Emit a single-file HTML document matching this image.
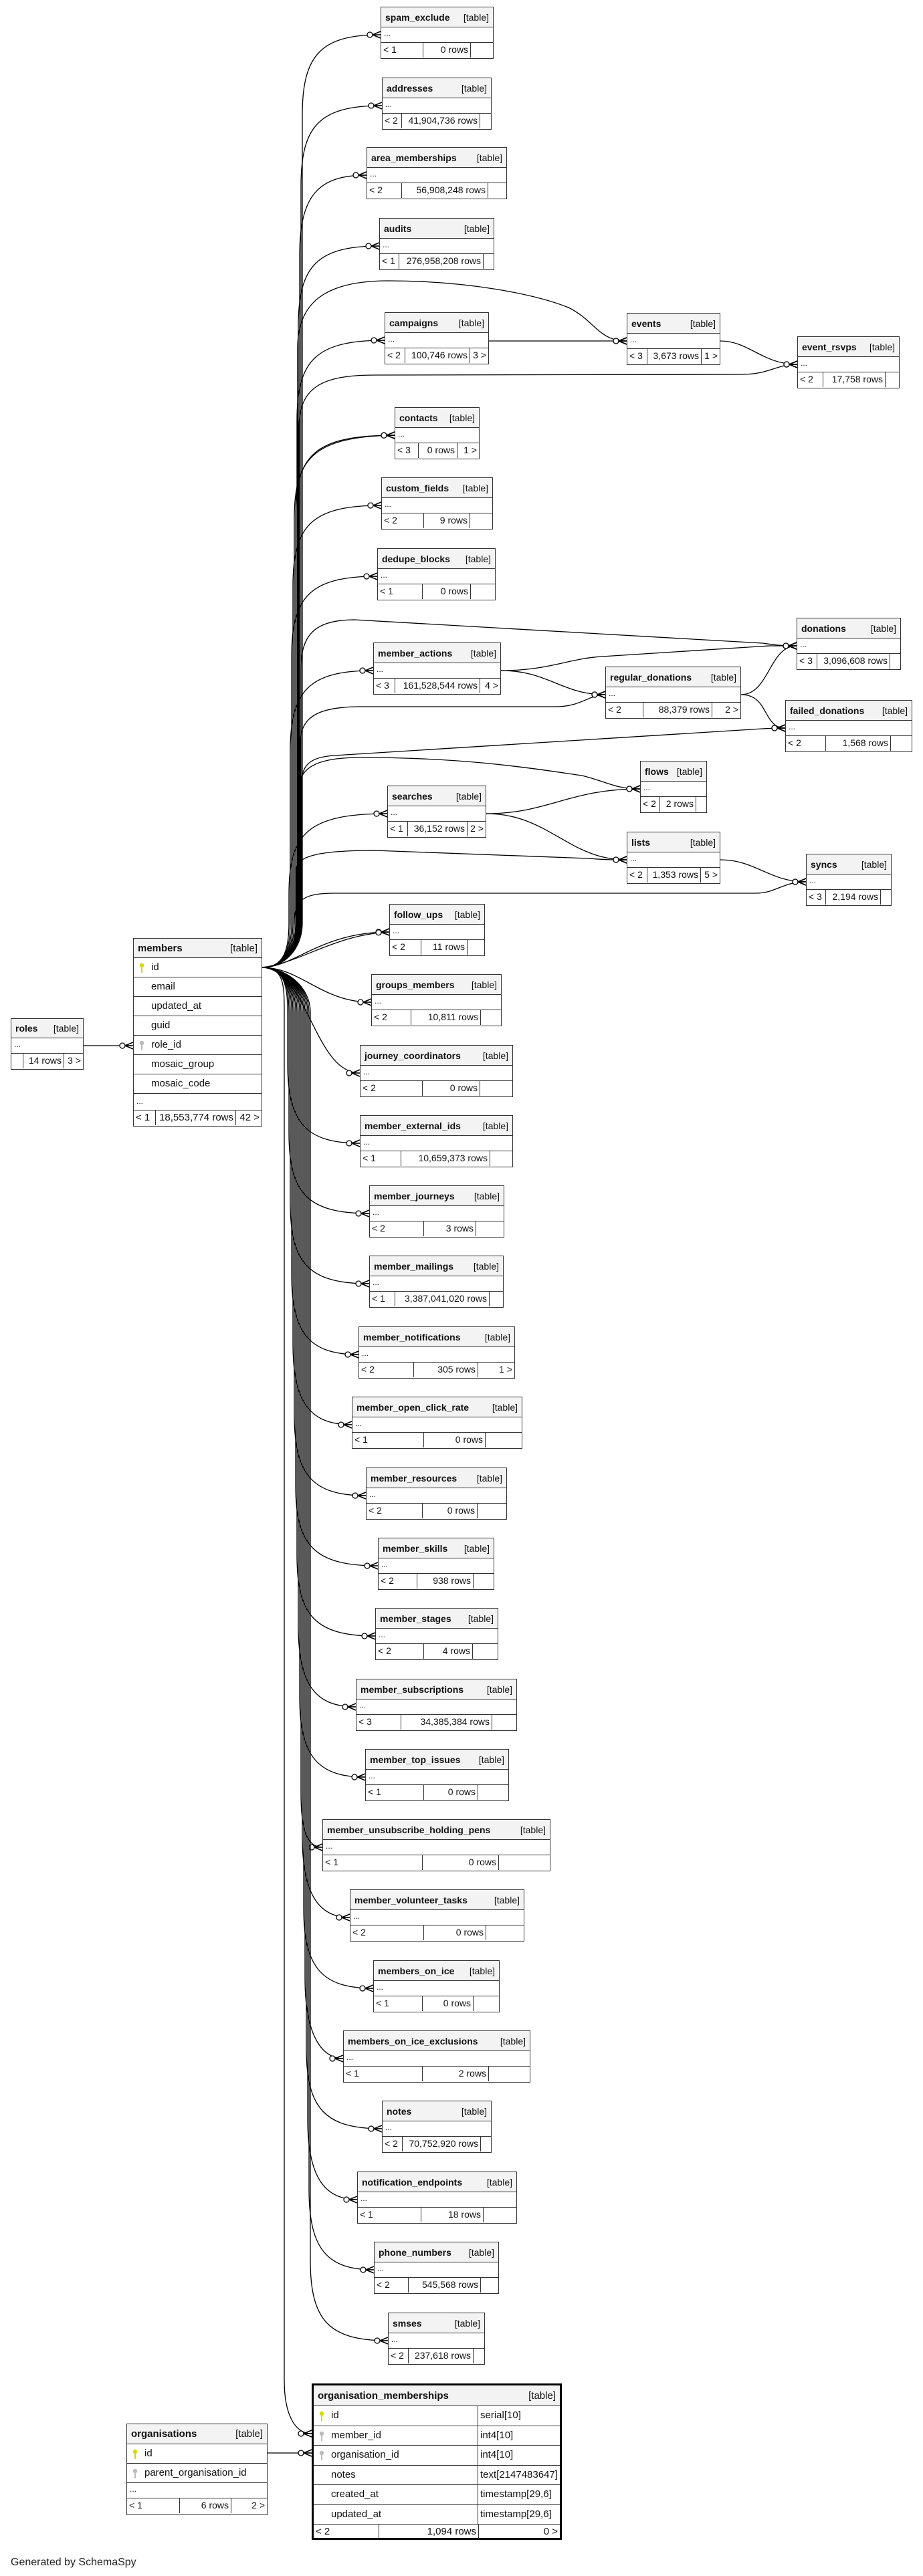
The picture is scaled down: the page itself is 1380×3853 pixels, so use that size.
<!DOCTYPE html>
<html><head><meta charset="utf-8">
<style>
html,body{margin:0;padding:0;background:#fff}
body{width:1380px;height:3853px;position:relative;overflow:hidden;font-family:"Liberation Sans",sans-serif;font-size:14px;color:#111}
svg.c{position:absolute;left:0;top:0}
.t{position:absolute;height:78px;border:1.5px solid #333;box-sizing:border-box;background:#fff}
.h{height:30px;background:#f3f3f3;border-bottom:1.5px solid #333;display:flex;justify-content:space-between;align-items:center;padding:0 6px;box-sizing:border-box;white-space:nowrap}
.h b{margin-right:4px}
.r{height:23px;border-bottom:1.5px solid #333;box-sizing:border-box;padding-left:4px;line-height:19px;font-size:12px}
.f{display:flex;height:22px;line-height:21px}
.f span{border-right:1.5px solid #333;box-sizing:border-box;padding:0 3px;white-space:nowrap;overflow:hidden}
.f span:nth-child(2){text-align:right}
.f span:last-child{border-right:0;flex:1;text-align:right}
.big .row{height:29px;border-bottom:1.5px solid #333;box-sizing:border-box;line-height:28px;position:relative;padding-left:26px;font-size:15px}
.key{position:absolute;left:8px;top:7px}
</style></head><body>
<svg class="c" width="1380" height="3853" viewBox="0 0 1380 3853">
<defs>
<marker id="m" markerUnits="userSpaceOnUse" viewBox="-24 -8 26 16" refX="0" refY="0" markerWidth="26" markerHeight="16" orient="auto">
<path d="M-12 0L0 -5M-12 0L0 5M-12 0L0 0" stroke="#000" stroke-width="1.6" fill="none"/>
<circle cx="-16" cy="0" r="4" fill="#fff" stroke="#000" stroke-width="1.3"/>
</marker>
</defs>
<g fill="none" stroke="#000" stroke-width="1.3" marker-end="url(#m)">
<path d="M392 1447C425 1447 452 1420 452 1380L452 172C452 82 480 52 569 52"/>
<path d="M392 1447C425 1447 450 1420 450 1380L450 278C450 188 478 158 571 158"/>
<path d="M392 1447C425 1447 448 1420 448 1380L448 382C448 292 476 262 548 262"/>
<path d="M392 1447C425 1447 446 1420 446 1380L446 488C446 398 474 368 567 368"/>
<path d="M392 1447C425 1447 444 1420 444 1380L444 629C444 539 472 509 575 509"/>
<path d="M392 1447C425 1447 442 1420 442 1380L442 771C442 681 470 651 590 651"/>
<path d="M392 1447C425 1447 440 1420 440 1380L440 776C440 686 468 653 590 651"/>
<path d="M392 1447C425 1447 438 1420 438 1380L438 876C438 786 466 756 570 756"/>
<path d="M392 1447C425 1447 436 1420 436 1380L436 982C436 892 464 862 564 862"/>
<path d="M392 1447C425 1447 434 1420 434 1380L434 1123C434 1033 462 1003 558 1003"/>
<path d="M392 1447C425 1447 432 1420 432 1380L432 1337C432 1247 460 1217 579 1217"/>
<path d="M392 1447C440 1447 480 1394 582 1394"/>
<path d="M392 1447C450 1440 500 1398 582 1394"/>
<path d="M392 1447C450 1447 480 1499 555 1499"/>
<path d="M392 1447C460 1450 470 1605 538 1605"/>
<path d="M392 1447C425 1447 430 1474 430 1514L430 1590C430 1680 458 1710 538 1710"/>
<path d="M392 1447C425 1447 432 1474 432 1514L432 1695C432 1785 460 1815 552 1815"/>
<path d="M392 1447C425 1447 434 1474 434 1514L434 1800C434 1890 462 1920 552 1920"/>
<path d="M392 1447C425 1447 436 1474 436 1514L436 1906C436 1996 464 2026 536 2026"/>
<path d="M392 1447C425 1447 438 1474 438 1514L438 2011C438 2101 466 2131 526 2131"/>
<path d="M392 1447C425 1447 440 1474 440 1514L440 2117C440 2207 468 2237 547 2237"/>
<path d="M392 1447C425 1447 442 1474 442 1514L442 2222C442 2312 470 2342 565 2342"/>
<path d="M392 1447C425 1447 444 1474 444 1514L444 2327C444 2417 472 2447 561 2447"/>
<path d="M392 1447C425 1447 446 1474 446 1514L446 2433C446 2523 474 2553 532 2553"/>
<path d="M392 1447C425 1447 448 1474 448 1514L448 2538C448 2628 476 2658 546 2658"/>
<path d="M392 1447C425 1447 450 1474 450 1514L450 2683C450 2740 460 2763 482 2763"/>
<path d="M392 1447C425 1447 452 1474 452 1514L452 2748C452 2838 480 2868 523 2868"/>
<path d="M392 1447C425 1447 454 1474 454 1514L454 2854C454 2944 482 2974 558 2974"/>
<path d="M392 1447C425 1447 456 1474 456 1514L456 2959C456 3049 484 3079 513 3079"/>
<path d="M392 1447C425 1447 458 1474 458 1514L458 3064C458 3154 486 3184 571 3184"/>
<path d="M392 1447C425 1447 460 1474 460 1514L460 3170C460 3260 488 3290 534 3290"/>
<path d="M392 1447C425 1447 462 1474 462 1514L462 3275C462 3365 490 3395 559 3395"/>
<path d="M392 1447C425 1447 464 1474 464 1514L464 3381C464 3471 492 3501 580 3501"/>
<path d="M392 1447C425 1447 425 1474 425 1514L425 3560C425 3610 440 3640 466 3640"/>
<path d="M125 1564L199 1564"/>
<path d="M400 3669L466 3669"/>
<path d="M392 1447C425 1447 445 1420 445 1380L445 520C445 450 490 420 580 420C700 420 800 440 850 460C890 480 895 510 937 510"/>
<path d="M731 510L937 510"/>
<path d="M392 1447C425 1447 447 1420 447 1380L447 640C447 580 480 561 560 561L1110 560C1150 560 1160 545 1192 545"/>
<path d="M1077 510C1120 510 1140 545 1192 545"/>
<path d="M392 1447C425 1447 450 1420 450 1380L450 1000C450 950 470 927 530 927L1140 962C1160 965 1170 966 1191 966"/>
<path d="M749 1003C820 1003 850 985 900 982L1150 966C1170 966 1180 966 1191 966"/>
<path d="M749 1003C820 1003 840 1039 905 1039"/>
<path d="M392 1447C425 1447 449 1420 449 1380L449 1110C449 1070 480 1057 540 1057L830 1057C870 1057 880 1039 905 1039"/>
<path d="M1108 1039C1150 1039 1150 966 1191 966"/>
<path d="M1108 1039C1150 1039 1140 1089 1174 1089"/>
<path d="M392 1447C425 1447 451 1420 451 1380L451 1170C451 1140 470 1132 500 1130L1140 1090C1155 1089 1165 1089 1174 1089"/>
<path d="M392 1447C425 1447 447 1420 447 1380L447 1180C447 1145 480 1133 540 1133C700 1133 800 1150 870 1160C910 1170 920 1180 957 1180"/>
<path d="M727 1217C820 1217 850 1180 957 1180"/>
<path d="M727 1217C820 1217 850 1286 937 1286"/>
<path d="M392 1447C425 1447 443 1420 443 1380L443 1300C443 1280 480 1272 560 1272L880 1284C905 1286 915 1286 937 1286"/>
<path d="M392 1447C425 1447 440 1420 440 1380C440 1345 455 1336 500 1336L1130 1336C1160 1336 1170 1319 1205 1319"/>
<path d="M1077 1286C1130 1286 1150 1319 1205 1319"/>
</g>
</svg>

<div class="t" style="left:569px;top:10px;width:169px"><div class="h"><b>spam_exclude</b><span>[table]</span></div><div class="r">...</div><div class="f"><span style="width:63px">&lt; 1</span><span style="width:71px">0 rows</span><span></span></div></div>
<div class="t" style="left:571px;top:116px;width:164px"><div class="h"><b>addresses</b><span>[table]</span></div><div class="r">...</div><div class="f"><span style="width:29px">&lt; 2</span><span style="width:117px">41,904,736 rows</span><span></span></div></div>
<div class="t" style="left:548px;top:220px;width:210px"><div class="h"><b>area_memberships</b><span>[table]</span></div><div class="r">...</div><div class="f"><span style="width:52px">&lt; 2</span><span style="width:129px">56,908,248 rows</span><span></span></div></div>
<div class="t" style="left:567px;top:326px;width:172px"><div class="h"><b>audits</b><span>[table]</span></div><div class="r">...</div><div class="f"><span style="width:29px">&lt; 1</span><span style="width:126px">276,958,208 rows</span><span></span></div></div>
<div class="t" style="left:575px;top:467px;width:156px"><div class="h"><b>campaigns</b><span>[table]</span></div><div class="r">...</div><div class="f"><span style="width:30px">&lt; 2</span><span style="width:97px">100,746 rows</span><span>3 &gt;</span></div></div>
<div class="t" style="left:937px;top:468px;width:140px"><div class="h"><b>events</b><span>[table]</span></div><div class="r">...</div><div class="f"><span style="width:30px">&lt; 3</span><span style="width:81px">3,673 rows</span><span>1 &gt;</span></div></div>
<div class="t" style="left:1192px;top:503px;width:153px"><div class="h"><b>event_rsvps</b><span>[table]</span></div><div class="r">...</div><div class="f"><span style="width:38px">&lt; 2</span><span style="width:93px">17,758 rows</span><span></span></div></div>
<div class="t" style="left:590px;top:609px;width:127px"><div class="h"><b>contacts</b><span>[table]</span></div><div class="r">...</div><div class="f"><span style="width:35px">&lt; 3</span><span style="width:58px">0 rows</span><span>1 &gt;</span></div></div>
<div class="t" style="left:570px;top:714px;width:167px"><div class="h"><b>custom_fields</b><span>[table]</span></div><div class="r">...</div><div class="f"><span style="width:63px">&lt; 2</span><span style="width:69px">9 rows</span><span></span></div></div>
<div class="t" style="left:564px;top:820px;width:177px"><div class="h"><b>dedupe_blocks</b><span>[table]</span></div><div class="r">...</div><div class="f"><span style="width:67px">&lt; 1</span><span style="width:72px">0 rows</span><span></span></div></div>
<div class="t" style="left:1191px;top:924px;width:156px"><div class="h"><b>donations</b><span>[table]</span></div><div class="r">...</div><div class="f"><span style="width:30px">&lt; 3</span><span style="width:109px">3,096,608 rows</span><span></span></div></div>
<div class="t" style="left:558px;top:961px;width:191px"><div class="h"><b>member_actions</b><span>[table]</span></div><div class="r">...</div><div class="f"><span style="width:32px">&lt; 3</span><span style="width:127px">161,528,544 rows</span><span>4 &gt;</span></div></div>
<div class="t" style="left:905px;top:997px;width:203px"><div class="h"><b>regular_donations</b><span>[table]</span></div><div class="r">...</div><div class="f"><span style="width:56px">&lt; 2</span><span style="width:103px">88,379 rows</span><span>2 &gt;</span></div></div>
<div class="t" style="left:1174px;top:1047px;width:190px"><div class="h"><b>failed_donations</b><span>[table]</span></div><div class="r">...</div><div class="f"><span style="width:60px">&lt; 2</span><span style="width:97px">1,568 rows</span><span></span></div></div>
<div class="t" style="left:957px;top:1138px;width:100px"><div class="h"><b>flows</b><span>[table]</span></div><div class="r">...</div><div class="f"><span style="width:29px">&lt; 2</span><span style="width:54px">2 rows</span><span></span></div></div>
<div class="t" style="left:579px;top:1175px;width:148px"><div class="h"><b>searches</b><span>[table]</span></div><div class="r">...</div><div class="f"><span style="width:30px">&lt; 1</span><span style="width:89px">36,152 rows</span><span>2 &gt;</span></div></div>
<div class="t" style="left:937px;top:1244px;width:140px"><div class="h"><b>lists</b><span>[table]</span></div><div class="r">...</div><div class="f"><span style="width:30px">&lt; 2</span><span style="width:80px">1,353 rows</span><span>5 &gt;</span></div></div>
<div class="t" style="left:1205px;top:1277px;width:128px"><div class="h"><b>syncs</b><span>[table]</span></div><div class="r">...</div><div class="f"><span style="width:29px">&lt; 3</span><span style="width:82px">2,194 rows</span><span></span></div></div>
<div class="t" style="left:582px;top:1352px;width:143px"><div class="h"><b>follow_ups</b><span>[table]</span></div><div class="r">...</div><div class="f"><span style="width:47px">&lt; 2</span><span style="width:69px">11 rows</span><span></span></div></div>
<div class="t" style="left:555px;top:1457px;width:195px"><div class="h"><b>groups_members</b><span>[table]</span></div><div class="r">...</div><div class="f"><span style="width:59px">&lt; 2</span><span style="width:104px">10,811 rows</span><span></span></div></div>
<div class="t" style="left:538px;top:1563px;width:229px"><div class="h"><b>journey_coordinators</b><span>[table]</span></div><div class="r">...</div><div class="f"><span style="width:93px">&lt; 2</span><span style="width:86px">0 rows</span><span></span></div></div>
<div class="t" style="left:538px;top:1668px;width:229px"><div class="h"><b>member_external_ids</b><span>[table]</span></div><div class="r">...</div><div class="f"><span style="width:61px">&lt; 1</span><span style="width:133px">10,659,373 rows</span><span></span></div></div>
<div class="t" style="left:552px;top:1773px;width:202px"><div class="h"><b>member_journeys</b><span>[table]</span></div><div class="r">...</div><div class="f"><span style="width:81px">&lt; 2</span><span style="width:78px">3 rows</span><span></span></div></div>
<div class="t" style="left:552px;top:1878px;width:201px"><div class="h"><b>member_mailings</b><span>[table]</span></div><div class="r">...</div><div class="f"><span style="width:38px">&lt; 1</span><span style="width:141px">3,387,041,020 rows</span><span></span></div></div>
<div class="t" style="left:536px;top:1984px;width:234px"><div class="h"><b>member_notifications</b><span>[table]</span></div><div class="r">...</div><div class="f"><span style="width:82px">&lt; 2</span><span style="width:96px">305 rows</span><span>1 &gt;</span></div></div>
<div class="t" style="left:526px;top:2089px;width:255px"><div class="h"><b>member_open_click_rate</b><span>[table]</span></div><div class="r">...</div><div class="f"><span style="width:107px">&lt; 1</span><span style="width:92px">0 rows</span><span></span></div></div>
<div class="t" style="left:547px;top:2195px;width:211px"><div class="h"><b>member_resources</b><span>[table]</span></div><div class="r">...</div><div class="f"><span style="width:84px">&lt; 2</span><span style="width:82px">0 rows</span><span></span></div></div>
<div class="t" style="left:565px;top:2300px;width:174px"><div class="h"><b>member_skills</b><span>[table]</span></div><div class="r">...</div><div class="f"><span style="width:58px">&lt; 2</span><span style="width:84px">938 rows</span><span></span></div></div>
<div class="t" style="left:561px;top:2405px;width:184px"><div class="h"><b>member_stages</b><span>[table]</span></div><div class="r">...</div><div class="f"><span style="width:72px">&lt; 2</span><span style="width:73px">4 rows</span><span></span></div></div>
<div class="t" style="left:532px;top:2511px;width:241px"><div class="h"><b>member_subscriptions</b><span>[table]</span></div><div class="r">...</div><div class="f"><span style="width:67px">&lt; 3</span><span style="width:136px">34,385,384 rows</span><span></span></div></div>
<div class="t" style="left:546px;top:2616px;width:215px"><div class="h"><b>member_top_issues</b><span>[table]</span></div><div class="r">...</div><div class="f"><span style="width:87px">&lt; 1</span><span style="width:81px">0 rows</span><span></span></div></div>
<div class="t" style="left:482px;top:2721px;width:341px"><div class="h"><b>member_unsubscribe_holding_pens</b><span>[table]</span></div><div class="r">...</div><div class="f"><span style="width:149px">&lt; 1</span><span style="width:114px">0 rows</span><span></span></div></div>
<div class="t" style="left:523px;top:2826px;width:261px"><div class="h"><b>member_volunteer_tasks</b><span>[table]</span></div><div class="r">...</div><div class="f"><span style="width:110px">&lt; 2</span><span style="width:93px">0 rows</span><span></span></div></div>
<div class="t" style="left:558px;top:2932px;width:189px"><div class="h"><b>members_on_ice</b><span>[table]</span></div><div class="r">...</div><div class="f"><span style="width:73px">&lt; 1</span><span style="width:76px">0 rows</span><span></span></div></div>
<div class="t" style="left:513px;top:3037px;width:280px"><div class="h"><b>members_on_ice_exclusions</b><span>[table]</span></div><div class="r">...</div><div class="f"><span style="width:118px">&lt; 1</span><span style="width:99px">2 rows</span><span></span></div></div>
<div class="t" style="left:571px;top:3142px;width:164px"><div class="h"><b>notes</b><span>[table]</span></div><div class="r">...</div><div class="f"><span style="width:30px">&lt; 2</span><span style="width:117px">70,752,920 rows</span><span></span></div></div>
<div class="t" style="left:534px;top:3248px;width:239px"><div class="h"><b>notification_endpoints</b><span>[table]</span></div><div class="r">...</div><div class="f"><span style="width:95px">&lt; 1</span><span style="width:93px">18 rows</span><span></span></div></div>
<div class="t" style="left:559px;top:3353px;width:187px"><div class="h"><b>phone_numbers</b><span>[table]</span></div><div class="r">...</div><div class="f"><span style="width:51px">&lt; 2</span><span style="width:108px">545,568 rows</span><span></span></div></div>
<div class="t" style="left:580px;top:3459px;width:145px"><div class="h"><b>smses</b><span>[table]</span></div><div class="r">...</div><div class="f"><span style="width:30px">&lt; 2</span><span style="width:97px">237,618 rows</span><span></span></div></div>

<!-- roles -->
<div class="t" style="left:16px;top:1523px;width:109px;height:77px"><div class="h" style="height:29px"><b>roles</b><span>[table]</span></div><div class="r">...</div><div class="f"><span style="width:18px"></span><span style="width:61px">14 rows</span><span>3 &gt;</span></div></div>

<!-- members -->
<div class="t big" style="left:199px;top:1403px;width:193px;height:282px">
<div class="h" style="height:29px"><b style="font-size:15px">members</b><span style="font-size:15px">[table]</span></div>
<div class="row"><svg class="key" width="8" height="16" viewBox="0 0 8 16"><circle cx="4" cy="4" r="3.2" fill="#d8d800"/><rect x="3" y="6" width="2" height="9" fill="#d8d800"/></svg>id</div>
<div class="row">email</div>
<div class="row">updated_at</div>
<div class="row">guid</div>
<div class="row"><svg class="key" width="8" height="16" viewBox="0 0 8 16"><circle cx="4" cy="4" r="3.2" fill="#bbb"/><rect x="3" y="6" width="2" height="9" fill="#bbb"/></svg>role_id</div>
<div class="row">mosaic_group</div>
<div class="row">mosaic_code</div>
<div class="r" style="height:25px;line-height:22px">...</div>
<div class="f" style="font-size:15px"><span style="width:33px">&lt; 1</span><span style="width:120px">18,553,774 rows</span><span>42 &gt;</span></div>
</div>

<!-- organisations -->
<div class="t big" style="left:189px;top:3625px;width:211px;height:137px">
<div class="h"><b style="font-size:15px">organisations</b><span style="font-size:15px">[table]</span></div>
<div class="row"><svg class="key" width="8" height="16" viewBox="0 0 8 16"><circle cx="4" cy="4" r="3.2" fill="#d8d800"/><rect x="3" y="6" width="2" height="9" fill="#d8d800"/></svg>id</div>
<div class="row"><svg class="key" width="8" height="16" viewBox="0 0 8 16"><circle cx="4" cy="4" r="3.2" fill="#bbb"/><rect x="3" y="6" width="2" height="9" fill="#bbb"/></svg>parent_organisation_id</div>
<div class="r">...</div>
<div class="f"><span style="width:79px">&lt; 1</span><span style="width:77px">6 rows</span><span>2 &gt;</span></div>
</div>

<!-- organisation_memberships -->
<div class="t big" style="left:466px;top:3565px;width:374px;height:234px;border:3px solid #000">
<div class="h" style="height:31px"><b style="font-size:15px">organisation_memberships</b><span style="font-size:15px">[table]</span></div>
<div class="row" style="height:29.5px"><svg class="key" width="8" height="16" viewBox="0 0 8 16"><circle cx="4" cy="4" r="3.2" fill="#d8d800"/><rect x="3" y="6" width="2" height="9" fill="#d8d800"/></svg>id<span style="position:absolute;left:245px;top:0;bottom:0;border-left:1.5px solid #333;padding-left:3px">serial[10]</span></div>
<div class="row" style="height:29.5px"><svg class="key" width="8" height="16" viewBox="0 0 8 16"><circle cx="4" cy="4" r="3.2" fill="#bbb"/><rect x="3" y="6" width="2" height="9" fill="#bbb"/></svg>member_id<span style="position:absolute;left:245px;top:0;bottom:0;border-left:1.5px solid #333;padding-left:3px">int4[10]</span></div>
<div class="row" style="height:29.5px"><svg class="key" width="8" height="16" viewBox="0 0 8 16"><circle cx="4" cy="4" r="3.2" fill="#bbb"/><rect x="3" y="6" width="2" height="9" fill="#bbb"/></svg>organisation_id<span style="position:absolute;left:245px;top:0;bottom:0;border-left:1.5px solid #333;padding-left:3px">int4[10]</span></div>
<div class="row" style="height:29.5px">notes<span style="position:absolute;left:245px;top:0;bottom:0;border-left:1.5px solid #333;padding-left:3px">text[2147483647]</span></div>
<div class="row" style="height:29.5px">created_at<span style="position:absolute;left:245px;top:0;bottom:0;border-left:1.5px solid #333;padding-left:3px">timestamp[29,6]</span></div>
<div class="row" style="height:29.5px">updated_at<span style="position:absolute;left:245px;top:0;bottom:0;border-left:1.5px solid #333;padding-left:3px">timestamp[29,6]</span></div>
<div class="f" style="font-size:15px"><span style="width:98px">&lt; 2</span><span style="width:149px">1,094 rows</span><span>0 &gt;</span></div>
</div>

<div style="position:absolute;left:16px;top:3824px;font-size:16px;color:#222">Generated by SchemaSpy</div>
</body></html>
